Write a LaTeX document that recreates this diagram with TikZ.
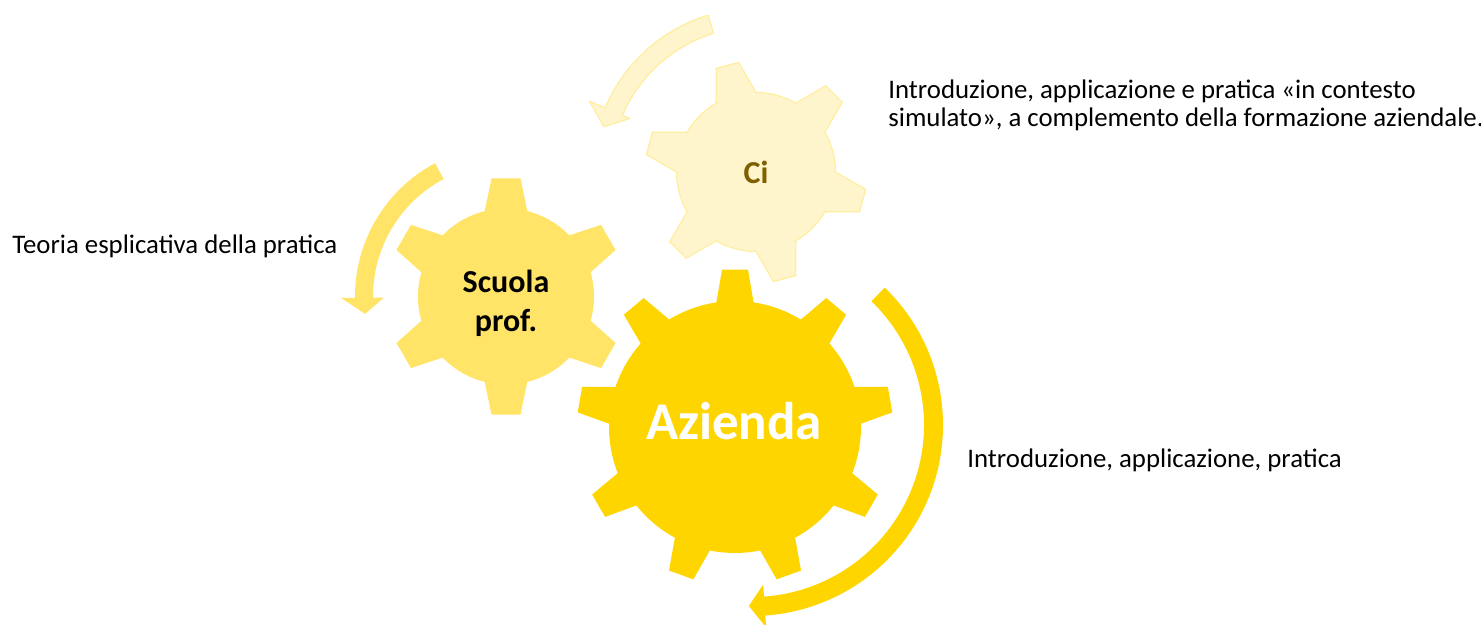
\documentclass[tikz,border=0pt]{standalone}
\usepackage{fontspec}
\setmainfont{Carlito}

\definecolor{aziendagold}{HTML}{FFD500}
\definecolor{scuolayellow}{HTML}{FFE468}
\definecolor{cicream}{HTML}{FFF5CC}
\definecolor{ciedge}{HTML}{FFEDA0}
\definecolor{citext}{HTML}{7F6000}

\tikzset{
  gearlabel/.style={inner sep=0pt, align=center, anchor=base},
  notetext/.style={inner sep=0pt, align=left, anchor=base west, font=\fontsize{13.4}{14.2}\selectfont},
  cishape/.style={fill=cicream, draw=ciedge, line width=0.6pt, line join=round},
}

\begin{document}
\begin{tikzpicture}[x=0.5pt, y=0.5pt]
\useasboundingbox (0,0) rectangle (1481,625);

% Ci gear and its arrow
\begin{scope}[shift={(756,453)}]
  \draw[cishape] (107:164) arc[start angle=107, end angle=157, radius=164]
    -- (157:181) -- (163.4:158.6) -- (157:137) -- (157:145)
    arc[start angle=157, end angle=107, radius=145] -- cycle;
  \draw[cishape] (90:79.5)
    \foreach \a in {105,165,...,405}{
      -- ({\a-15}:79.5) -- ({\a-6}:111) -- ({\a+6}:111) -- ({\a+15}:79.5)
      arc[start angle=\a+15, end angle=\a+45, radius=79.5]
    } -- cycle;
\end{scope}

% Scuola gear and its arrow
\begin{scope}[shift={(506,328.5)}]
  \fill[scuolayellow] (118:151) arc[start angle=118, end angle=180.5, radius=151]
    -- (180.5:165) -- (187:142) -- (180.5:122) -- (180.5:133)
    arc[start angle=180.5, end angle=118, radius=133] -- cycle;
  \fill[scuolayellow] (16:88)
    \foreach \a in {30,90,...,330}{
      -- ({\a-14}:88) -- ({\a-7}:119) -- ({\a+7}:119) -- ({\a+14}:88)
      arc[start angle=\a+14, end angle=\a+46, radius=88]
    } -- cycle;
\end{scope}

% Azienda gear
\begin{scope}[shift={(735,198)}]
  \fill[aziendagold] (1.5:126)
    \foreach \a in {10,50,...,330}{
      -- ({\a-8.5}:126) -- ({\a-4.7}:158) -- ({\a+4.7}:158) -- ({\a+8.5}:126)
      arc[start angle=\a+8.5, end angle=\a+31.5, radius=126]
    } -- cycle;
\end{scope}

% Azienda arrow
\begin{scope}[shift={(752,200)}]
  \fill[aziendagold] (46:191) arc[start angle=46, end angle=-86, radius=191]
    -- (-86:203) -- (-91:181) -- (-86:160) -- (-86:172)
    arc[start angle=-86, end angle=46, radius=172] -- cycle;
\end{scope}

% Labels in the gears
\node[gearlabel, text=citext, font=\fontsize{16}{19.5}\selectfont\bfseries] (ci) at (756,441.7) {Ci};
\node[gearlabel, font=\fontsize{16}{19.5}\selectfont\bfseries] (scuola) at (506,293) {Scuola\\prof.};
\node[gearlabel, text=white, font=\fontsize{26.5}{32}\selectfont\bfseries] (azienda) at (734,185) {Azienda};

% Notes
\node[notetext] (cinote) at (888,498.3) {Introduzione, applicazione e pratica «in contesto\\simulato», a complemento della formazione aziendale.};
\node[notetext] (scuolanote) at (12,371.7) {Teoria esplicativa della pratica};
\node[notetext] (aziendanote) at (967,157.3) {Introduzione, applicazione, pratica};
\end{tikzpicture}
\end{document}
